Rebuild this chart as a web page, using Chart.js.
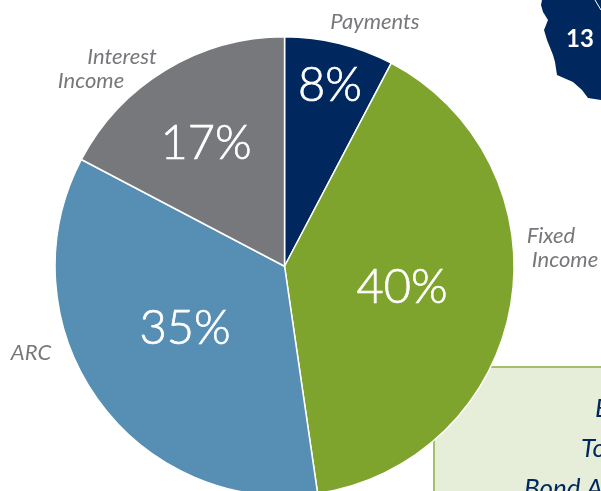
<!DOCTYPE html>
<html><head><meta charset="utf-8">
<style>html,body{margin:0;padding:0;background:#fff;overflow:hidden}#w{width:601px;height:491px;overflow:hidden}canvas{display:block}</style>
<script src="https://cdn.jsdelivr.net/npm/chart.js@4"></script></head>
<body><div id="w"><canvas id="c" width="601" height="500"></canvas></div>
<script>
const categories=["Payments","Fixed Income","ARC","Interest Income"];
const values=[7.7,40,35,17.3];
const colors=["#00285f","#7ea42e","#568fb3","#77787b"];
const pctLabels=["8%","40%","35%","17%"];
const labelLines=[["Payments"],["Fixed","Income"],["ARC"],["Interest","Income"]];
const labelSpots=[[[375,22]],[[551,236],[565,260]],[[31,353]],[[122,57],[91,81]]];
const pctSpots=[[330,86],[402,288],[185,329],[206,144]];
const panelLines=["E","To","Bond A"];
const panelSpots=[[595,409],[581,449],[524,489]];
const mapOutline=[[542,0],[541,5],[543,12],[548,20],[544,30],[547,40],[553,55],[555,62],[557,75],[573,82],[582,90],[588,98],[601,100],[601,0]];
const F='Lato, "Open Sans", sans-serif';
const overlay={id:'overlay',
 beforeDatasetsDraw(ch){const x=ch.ctx;x.save();
  x.fillStyle='#e6edd8';x.strokeStyle='#a4c06a';x.lineWidth=2;
  x.fillRect(434,367,180,140);x.strokeRect(434,367,180,140);
  x.fillStyle='#00285f';x.beginPath();
  mapOutline.forEach((p,i)=>i?x.lineTo(p[0],p[1]):x.moveTo(p[0],p[1]));x.closePath();x.fill();
  x.strokeStyle='#fff';x.lineWidth=1;x.beginPath();x.moveTo(595,0);x.lineTo(601,10);x.stroke();
  x.restore();},
 afterDatasetsDraw(ch){const x=ch.ctx;x.save();
  x.textBaseline='middle';x.textAlign='center';
  x.fillStyle='#fff';x.strokeStyle='#fff';x.lineWidth=0.7;x.font='300 47px '+F;
  pctLabels.forEach((t,i)=>{x.fillText(t,pctSpots[i][0],pctSpots[i][1]);x.strokeText(t,pctSpots[i][0],pctSpots[i][1]);});
  x.fillStyle='#77787b';x.font='italic 22px '+F;
  labelLines.forEach((ls,i)=>ls.forEach((t,j)=>x.fillText(t,labelSpots[i][j][0],labelSpots[i][j][1])));
  x.fillStyle='#fff';x.font='bold 24px '+F;x.fillText("13",580,39);
  x.fillStyle='#00285f';x.font='italic 26px '+F;x.textAlign='left';
  panelLines.forEach((t,i)=>x.fillText(t,panelSpots[i][0],panelSpots[i][1]));
  x.restore();}};
new Chart(document.getElementById('c'),{type:'pie',
 data:{labels:categories,datasets:[{data:values,backgroundColor:colors,borderColor:'#fff',borderWidth:1.5}]},
 options:{responsive:false,animation:false,rotation:0,
  layout:{padding:{left:54.3,top:36,right:86.2,bottom:3.5}},
  plugins:{legend:{display:false},tooltip:{enabled:false}}},
 plugins:[overlay]});
</script></body></html>
